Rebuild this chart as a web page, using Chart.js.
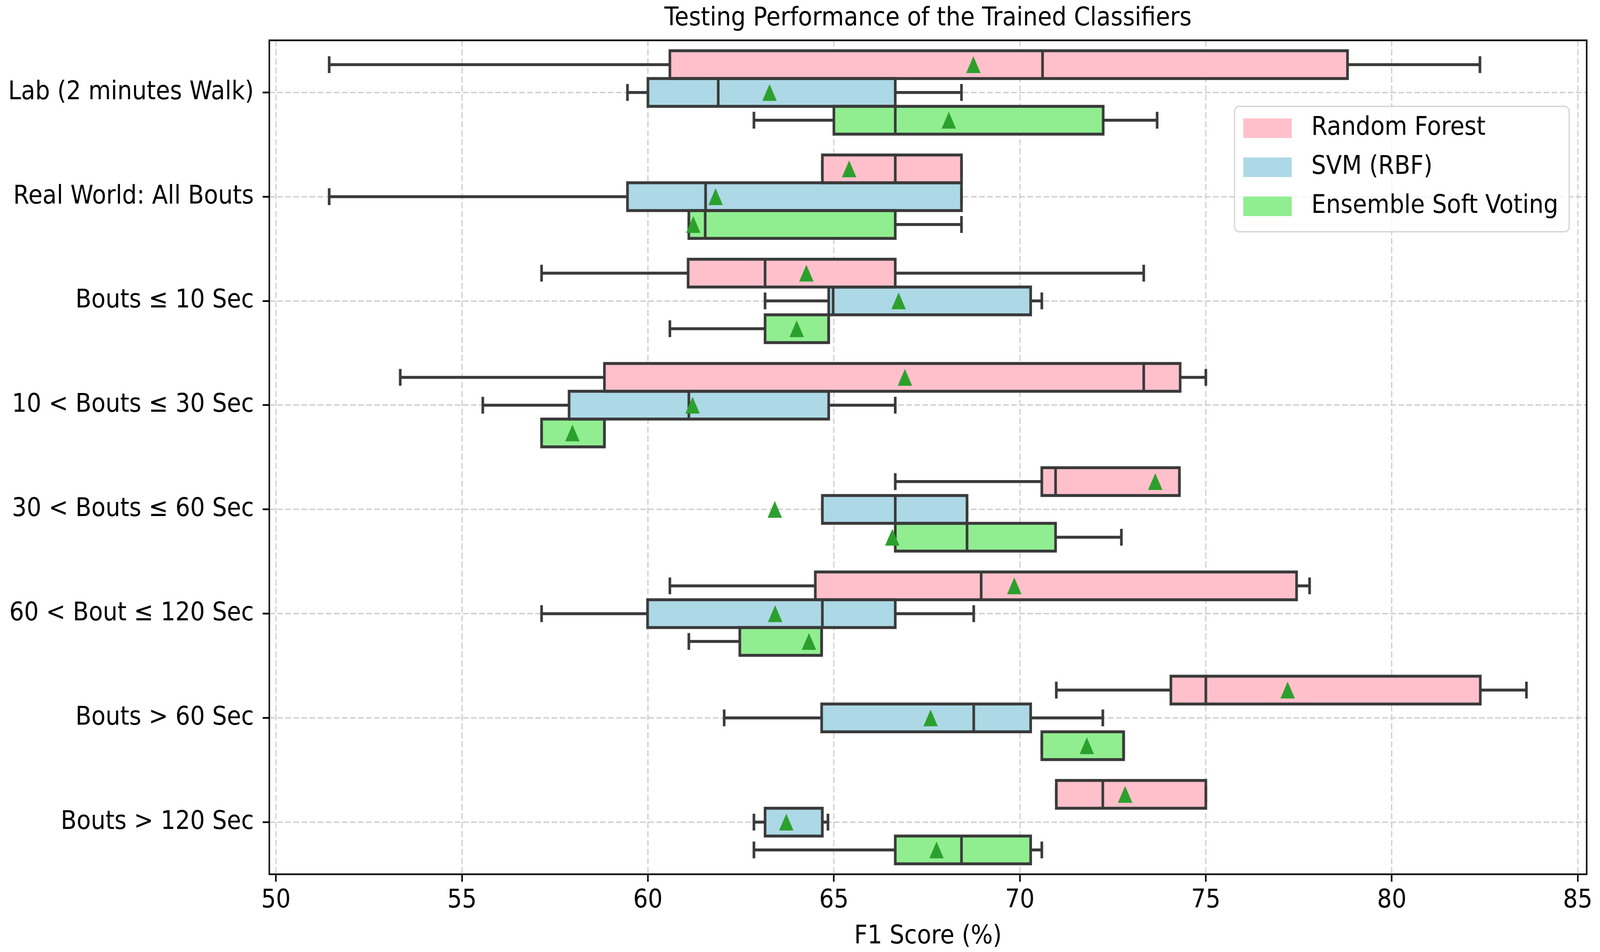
<!DOCTYPE html>
<html>
<head>
<meta charset="utf-8">
<script src="https://cdn.jsdelivr.net/npm/chart.js@4.4.1/dist/chart.umd.min.js"></script>
<style>
html,body{margin:0;padding:0;background:#fff;overflow:hidden}
#wrap{position:absolute;left:0;top:0;width:4563px;height:2437px;transform-origin:0 0}
</style>
</head>
<body>
<div id="wrap"><canvas id="c"></canvas></div>
<script>
// ---------------- data ----------------
const categories = [
  'Lab (2 minutes Walk)',
  'Real World: All Bouts',
  'Bouts \u2264 10 Sec',
  '10 < Bouts \u2264 30 Sec',
  '30 < Bouts \u2264 60 Sec',
  '60 < Bout \u2264 120 Sec',
  'Bouts > 60 Sec',
  'Bouts > 120 Sec'
];
const models = ['Random Forest', 'SVM (RBF)', 'Ensemble Soft Voting'];
const xTicks = [50, 55, 60, 65, 70, 75, 80, 85];

const rfLow    = [51.43, 64.69, 57.14, 53.34, 66.65, 60.59, 70.98, 70.98];
const rfQ1     = [60.59, 64.69, 61.08, 58.83, 70.59, 64.50, 74.06, 70.98];
const rfMedian = [70.61, 66.65, 63.15, 73.33, 70.96, 68.96, 75.00, 72.23];
const rfQ3     = [78.81, 68.43, 66.65, 74.31, 74.29, 77.44, 82.38, 75.00];
const rfHigh   = [82.37, 68.43, 73.33, 75.00, 74.29, 77.79, 83.62, 75.00];
const rfMean   = [68.75, 65.41, 64.26, 66.91, 73.64, 69.85, 77.20, 72.83];

const svmLow    = [59.45, 51.43, 63.15, 55.56, 64.69, 57.14, 62.05, 62.85];
const svmQ1     = [60.00, 59.45, 64.86, 57.88, 64.69, 59.99, 64.67, 63.15];
const svmMedian = [61.89, 61.55, 64.98, 61.10, 66.65, 64.69, 68.76, 64.69];
const svmQ3     = [66.65, 68.43, 70.29, 64.86, 68.58, 66.65, 70.29, 64.69];
const svmHigh   = [68.43, 68.43, 70.59, 66.65, 68.58, 68.76, 72.23, 64.84];
const svmMean   = [63.27, 61.82, 66.74, 61.20, 63.41, 63.42, 67.60, 63.72];

const esvLow    = [62.85, 61.10, 60.59, 57.14, 66.65, 61.10, 70.59, 62.85];
const esvQ1     = [65.00, 61.10, 63.15, 57.14, 66.65, 62.47, 70.59, 66.65];
const esvMedian = [66.65, 61.54, 64.86, 58.83, 68.58, 64.67, 72.79, 68.43];
const esvQ3     = [72.24, 66.65, 64.86, 58.83, 70.96, 64.67, 72.79, 70.29];
const esvHigh   = [73.69, 68.43, 64.86, 58.83, 72.73, 64.67, 72.79, 70.59];
const esvMean   = [68.09, 61.22, 64.00, 57.97, 66.57, 64.33, 71.80, 67.76];

// ---------------- page scaling (design is 4563 x 2437, fill the viewport) ----------------
const DESIGN_W = 4563, DESIGN_H = 2437;
const sx = window.innerWidth / DESIGN_W;
const sy = window.innerHeight / DESIGN_H;
document.getElementById('wrap').style.transform = 'scale(' + sx + ',' + sy + ')';
const chartDPR = Math.max(sx, sy) * (window.devicePixelRatio || 1);

// ---------------- styles ----------------
const modelColors = ['#FFC0CB', '#ADD8E6', '#90EE90'];
const EDGE = '#3a3a3a';
const LW = 7.5;
const MEAN_COLOR = '#2ca02c';
const FONT = '"DejaVu Sans", "Liberation Sans", sans-serif';
const FS = 66;

const stats = [
  {low: rfLow, q1: rfQ1, med: rfMedian, q3: rfQ3, high: rfHigh, mean: rfMean},
  {low: svmLow, q1: svmQ1, med: svmMedian, q3: svmQ3, high: svmHigh, mean: svmMean},
  {low: esvLow, q1: esvQ1, med: esvMedian, q3: esvQ3, high: esvHigh, mean: esvMean}
];

const boxPlugin = {
  id: 'boxParts',
  afterDatasetsDraw(chart) {
    const ctx = chart.ctx;
    const xs = chart.scales.x;
    const px = v => xs.getPixelForValue(v);
    ctx.save();
    stats.forEach((s, di) => {
      chart.getDatasetMeta(di).data.forEach((bar, i) => {
        const y = bar.y, h = bar.height;
        const top = y - h / 2, bot = y + h / 2;
        const pl = px(s.low[i]), p1 = px(s.q1[i]), pm = px(s.med[i]);
        const p3 = px(s.q3[i]), ph = px(s.high[i]), pmean = px(s.mean[i]);
        ctx.strokeStyle = EDGE;
        ctx.lineWidth = LW;
        ctx.lineCap = 'butt';
        ctx.lineJoin = 'miter';
        const cap = h * 0.25 + LW / 2;
        ctx.beginPath();
        ctx.moveTo(pl, y); ctx.lineTo(p1, y);
        ctx.moveTo(p3, y); ctx.lineTo(ph, y);
        ctx.moveTo(pl, y - cap); ctx.lineTo(pl, y + cap);
        ctx.moveTo(ph, y - cap); ctx.lineTo(ph, y + cap);
        ctx.stroke();
        ctx.strokeRect(p1, top, p3 - p1, h);
        ctx.beginPath();
        ctx.moveTo(pm, top); ctx.lineTo(pm, bot);
        ctx.stroke();
        ctx.fillStyle = MEAN_COLOR;
        ctx.beginPath();
        ctx.moveTo(pmean, y - 21.5);
        ctx.lineTo(pmean + 20.5, y + 21.5);
        ctx.lineTo(pmean - 20.5, y + 21.5);
        ctx.closePath();
        ctx.fill();
      });
    });
    const ca = chart.chartArea;
    ctx.strokeStyle = '#111';
    ctx.lineWidth = 4.4;
    ctx.strokeRect(ca.left, ca.top, ca.right - ca.left, ca.bottom - ca.top);
    ctx.restore();
  },
  afterDraw(chart) {
    const ctx = chart.ctx;
    const ca = chart.chartArea;
    ctx.save();
    ctx.font = FS + 'px ' + FONT;
    const maxW = Math.max(...models.map(m => ctx.measureText(m).width));
    const padL = 25, padR = 31, patchW = 138, patchH = 50, gap = 56, rowH = 100;
    const boxW = padL + patchW + gap + maxW + padR;
    const boxH = 321;
    const right = ca.right - 50;
    const top = ca.top + 169;
    const left = right - boxW;
    const r = 13;
    ctx.beginPath();
    ctx.moveTo(left + r, top);
    ctx.lineTo(left + boxW - r, top);
    ctx.arcTo(left + boxW, top, left + boxW, top + r, r);
    ctx.lineTo(left + boxW, top + boxH - r);
    ctx.arcTo(left + boxW, top + boxH, left + boxW - r, top + boxH, r);
    ctx.lineTo(left + r, top + boxH);
    ctx.arcTo(left, top + boxH, left, top + boxH - r, r);
    ctx.lineTo(left, top + r);
    ctx.arcTo(left, top, left + r, top, r);
    ctx.closePath();
    ctx.fillStyle = 'rgba(255,255,255,0.8)';
    ctx.fill();
    ctx.strokeStyle = '#d6d6d6';
    ctx.lineWidth = 3.5;
    ctx.stroke();
    models.forEach((m, k) => {
      const cy = top + 56 + k * rowH;
      ctx.fillStyle = modelColors[k];
      ctx.fillRect(left + padL, cy - patchH / 2, patchW, patchH);
      ctx.fillStyle = '#000';
      ctx.textAlign = 'left';
      ctx.textBaseline = 'middle';
      ctx.fillText(m, left + padL + patchW + gap, cy);
    });
    ctx.restore();
  }
};

Chart.defaults.font.family = FONT;
Chart.defaults.color = '#000';

const datasets = [
  {q1: rfQ1, q3: rfQ3},
  {q1: svmQ1, q3: svmQ3},
  {q1: esvQ1, q3: esvQ3}
].map((d, k) => ({
  label: models[k],
  data: d.q1.map((v, i) => [v, d.q3[i]]),
  backgroundColor: modelColors[k],
  borderWidth: 0,
  categoryPercentage: 0.8,
  barPercentage: 1.0
}));

new Chart(document.getElementById('c'), {
  type: 'bar',
  data: {labels: categories, datasets},
  plugins: [boxPlugin],
  options: {
    indexAxis: 'y',
    responsive: true,
    maintainAspectRatio: false,
    devicePixelRatio: chartDPR,
    animation: false,
    events: [],
    layout: {padding: {left: 0, right: 38, top: 0, bottom: 0}},
    plugins: {
      legend: {display: false},
      tooltip: {enabled: false},
      title: {
        display: true,
        text: 'Testing Performance of the Trained Classifiers',
        font: {size: FS, weight: 'normal'},
        color: '#000',
        padding: {top: 8, bottom: 16},
        fullSize: false
      }
    },
    scales: {
      x: {
        type: 'linear',
        min: 49.82,
        max: 85.24,
        afterBuildTicks: scale => { scale.ticks = xTicks.map(v => ({value: v})); },
        afterFit: scale => { scale.height = 199; },
        ticks: {font: {size: FS}, color: '#000', padding: 9, maxRotation: 0, autoSkip: false},
        grid: {color: '#cfcfcf', lineWidth: 3.5, tickColor: '#000', tickWidth: 4.4, tickLength: 19, tickBorderDash: []},
        border: {display: false, dash: [16, 7]},
        title: {display: true, text: 'F1 Score (%)', font: {size: FS, weight: 'normal'}, color: '#000', padding: {top: 0, bottom: 0}}
      },
      y: {
        type: 'category',
        offset: true,
        afterFit: scale => { scale.width = 768; },
        ticks: {font: {size: FS}, color: '#000', padding: 25, autoSkip: false},
        grid: {offset: false, color: '#cfcfcf', lineWidth: 3.5, tickColor: '#000', tickWidth: 4.4, tickLength: 19, tickBorderDash: []},
        border: {display: false, dash: [16, 7]}
      }
    }
  }
});
</script>
</body>
</html>
